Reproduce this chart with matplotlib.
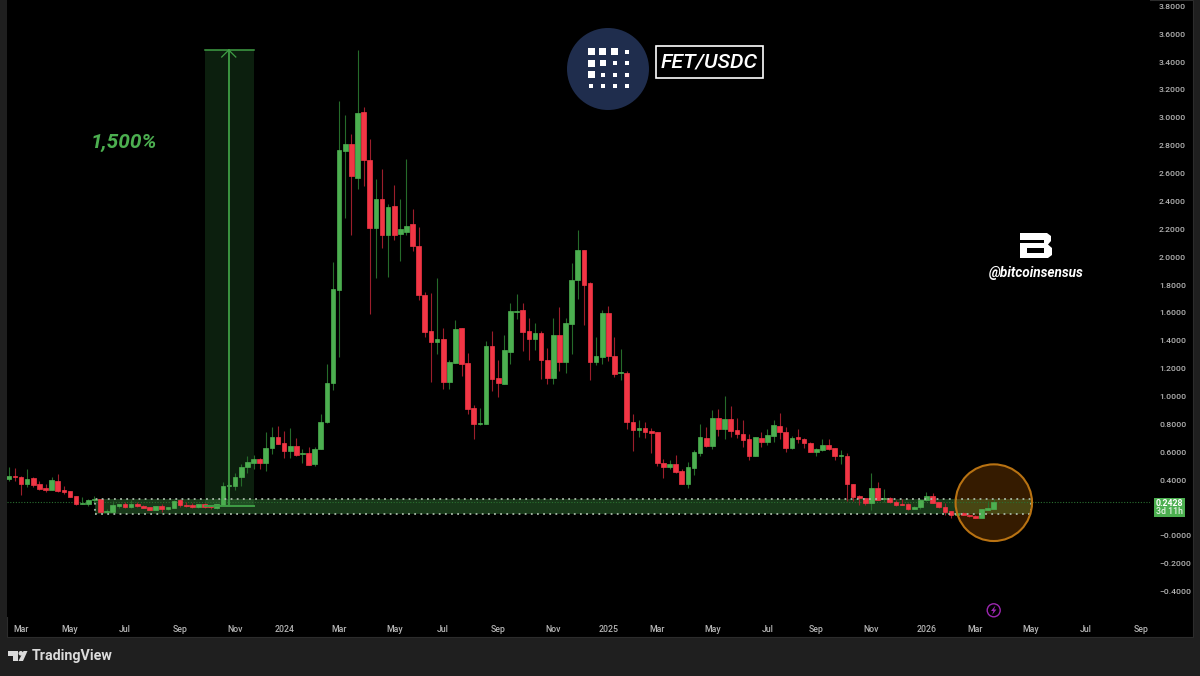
import numpy as np
import matplotlib
matplotlib.use("Agg")
import matplotlib.pyplot as plt
from matplotlib.patches import Rectangle, Ellipse, Circle, Polygon

# weekly FET/USDC candles
opens = [.409,.431,.426,.371,.414,.371,.344,.333,.397,.328,.323,.287,.232,.232,.258,.266,.175,.172,.215,.232,
         .206,.230,.218,.206,.189,.215,.196,.201,.258,.225,.220,.206,.230,.213,.199,.222,.359,.359,.423,.493,
         .526,.553,.522,.629,.708,.670,.612,.646,.588,.595,.514,.624,.815,1.098,1.768,2.763,2.811,2.569,3.041,2.699,
         2.211,2.419,2.158,2.364,2.170,2.181,2.237,2.081,1.730,1.471,1.395,1.416,1.107,1.239,1.490,1.241,.918,.803,.806,1.363,
         1.133,1.093,1.322,1.607,1.621,1.471,1.416,1.456,1.265,1.133,1.440,1.248,1.523,1.834,2.054,1.815,1.248,1.286,1.602,1.291,
         1.172,1.172,.820,.760,.772,.756,.744,.524,.495,.514,.464,.373,.488,.593,.706,.646,.847,.768,.842,.758,
         .734,.694,.576,.706,.672,.717,.792,.749,.634,.710,.696,.667,.605,.617,.655,.629,.572,.574,.376,.289,
         .275,.234,.342,.268,.273,.246,.230,.230,.196,.206,.256,.285,.242,.208,.177,.153,.167,.151,.143,.132,
         .189,.196]
highs = [.498,.486,.428,.478,.421,.397,.373,.421,.445,.359,.325,.289,.278,.263,.287,.268,.194,.249,.232,.246,
         .258,.244,.220,.208,.218,.230,.211,.258,.263,.242,.234,.232,.234,.215,.232,.385,.380,.450,.514,.577,
         .581,.562,.746,.782,.792,.753,.772,.701,.627,.636,.641,.873,1.232,1.968,3.124,3.021,2.885,3.488,3.081,2.847,
         2.562,2.634,2.383,2.519,2.421,2.706,2.344,2.218,1.751,1.744,1.852,1.490,1.263,1.550,1.490,1.313,.940,.918,1.397,1.471,
         1.263,1.444,1.674,1.734,1.669,1.562,1.526,1.471,1.351,1.561,1.643,1.564,1.956,2.195,2.054,1.820,1.428,1.619,1.650,1.428,
         1.341,1.184,.875,.832,.815,.772,.746,.552,.545,.581,.483,.533,.617,.801,.782,.904,.909,1.004,.933,.844,
         .830,.734,.713,.746,.768,.832,.882,.782,.717,.765,.705,.674,.629,.696,.696,.634,.615,.593,.376,.294,
         .275,.454,.385,.337,.282,.258,.265,.234,.215,.265,.318,.306,.246,.234,.177,.170,.170,.155,.148,.196,
         .251,.263]
lows = [.397,.397,.294,.349,.354,.330,.318,.330,.318,.301,.278,.225,.230,.215,.239,.170,.170,.170,.201,.201,
        .201,.211,.201,.187,.187,.175,.184,.199,.211,.211,.203,.203,.203,.194,.194,.215,.330,.330,.359,.455,
        .483,.483,.464,.588,.658,.560,.562,.576,.521,.507,.505,.622,.813,1.050,1.287,2.280,2.160,2.486,2.512,1.593,
        1.852,2.065,1.861,2.124,1.974,2.160,2.046,1.694,1.426,1.103,1.304,1.055,1.055,1.239,1.150,.873,.696,.796,.806,1.040,
        .997,1.093,1.234,1.557,1.327,1.263,1.334,1.126,1.088,1.088,1.186,1.172,1.308,1.700,1.514,1.119,1.224,1.234,1.255,1.141,
        1.117,.768,.610,.708,.703,.598,.502,.416,.478,.454,.371,.342,.438,.576,.641,.627,.717,.698,.708,.703,
        .641,.545,.574,.641,.655,.674,.698,.603,.627,.667,.634,.603,.576,.612,.619,.548,.519,.254,.249,.220,
        .222,.187,.256,.246,.239,.218,.222,.189,.191,.194,.254,.234,.203,.148,.132,.150,.150,.136,.129,.129,
        .187,.194]
closes = [.431,.426,.371,.411,.366,.337,.328,.402,.323,.313,.280,.230,.236,.261,.263,.172,.179,.220,.230,.208,
          .232,.218,.203,.189,.215,.196,.208,.254,.222,.218,.208,.230,.208,.206,.227,.359,.364,.426,.495,.529,
          .553,.522,.632,.708,.660,.610,.646,.581,.593,.509,.627,.820,1.098,1.772,2.768,2.811,2.579,3.036,2.699,2.213,
          2.416,2.158,2.361,2.158,2.201,2.227,2.077,1.727,1.464,1.392,1.416,1.102,1.248,1.485,1.236,.913,.803,.808,1.363,1.126,
          1.095,1.334,1.614,1.616,1.466,1.411,1.459,1.265,1.133,1.440,1.248,1.526,1.836,2.054,1.801,1.248,1.289,1.602,1.291,1.162,
          1.177,.815,.760,.772,.748,.739,.521,.495,.514,.459,.373,.493,.600,.708,.646,.847,.768,.842,.753,.732,
          .689,.576,.708,.672,.725,.794,.746,.629,.705,.696,.667,.605,.622,.655,.624,.574,.581,.371,.280,.273,
          .237,.342,.261,.273,.244,.222,.225,.194,.208,.261,.285,.237,.206,.172,.153,.165,.153,.141,.132,.191,
          .201,.2428]

month_pos = [2,10,19,28,37,45,54,63,71,80,89,98,106,115,124,132,141,150,158,167,176,185]
month_labels = ["Mar","May","Jul","Sep","Nov","2024","Mar","May","Jul","Sep","Nov","2025",
                "Mar","May","Jul","Sep","Nov","2026","Mar","May","Jul","Sep"]
price_ticks = [3.8,3.6,3.4,3.2,3.0,2.8,2.6,2.4,2.2,2.0,1.8,1.6,1.4,1.2,1.0,0.8,0.6,0.4,0.0,-0.2,-0.4]
price_labels = ["%.4f" % p for p in price_ticks[:18]] + ["\u22120.0000","\u22120.2000","\u22120.4000"]

last_price = 0.2428
zone_low, zone_high = 0.158, 0.262
zone_start, zone_end = 14.1, 167.0
move_low, move_high = 0.215, 3.486
move_start, move_mid, move_end = 32.0, 35.95, 40.1

GREEN = "#4caf50"
RED = "#f23645"
GREEN_WICK = "#256b2a"
RED_WICK = "#9c1e2b"
FRAME = "#1f1f1f"
TICK = "#b4b4b4"
W, H = 1200, 676

plt.rcParams["font.family"] = ["Roboto", "DejaVu Sans"]
fig = plt.figure(figsize=(W / 100, H / 100), dpi=100, facecolor=FRAME)

# black pane behind the chart and the two axis strips
fig.add_artist(Rectangle((7 / W, 1 - 637 / H), 1186 / W, 637 / H, transform=fig.transFigure,
                         facecolor="black", edgecolor="#2c2c2c", linewidth=0.8, zorder=-5))

ax = fig.add_axes([7 / W, 1 - 617 / H, 1143 / W, 617 / H], facecolor="black")
ax.set_xlim((7 - 8.8) / 6.118, (1150 - 8.8) / 6.118)
ax.set_ylim((536 - 617) / 139.4, 536 / 139.4)
for s in ax.spines.values():
    s.set_visible(False)

x = np.arange(len(closes))
o, h, l, c = map(np.array, (opens, highs, lows, closes))
up = c >= o

# overlays that sit under the candles
ax.add_patch(Rectangle((move_start, move_low), move_end - move_start, move_high - move_low,
                       facecolor="#0c1f0e", edgecolor="none", zorder=1))
ax.add_patch(Rectangle((zone_start, zone_low), zone_end - zone_start, zone_high - zone_low,
                       facecolor="#4caf50", alpha=0.32, edgecolor="none", zorder=1.5))
ax.add_patch(Ellipse((161, 0.239), 12.5, 0.55, facecolor="#f57c00", alpha=0.22, edgecolor="none", zorder=2))
ax.add_patch(Ellipse((161, 0.239), 12.5, 0.55, facecolor="none", edgecolor="#b87212", linewidth=1.5, zorder=5))
ax.add_patch(Rectangle((zone_start, zone_low), zone_end - zone_start, zone_high - zone_low,
                       facecolor="none", edgecolor="#a9b9a9", linewidth=1.3,
                       linestyle=(0, (1, 2.4)), zorder=4))
ax.axhline(last_price, color="#2a6e30", linewidth=0.8, linestyle=(0, (1, 1.5)), zorder=2)

# candles
ax.vlines(x[up], l[up], h[up], color=GREEN_WICK, linewidth=0.8, zorder=3)
ax.vlines(x[~up], l[~up], h[~up], color=RED_WICK, linewidth=0.8, zorder=3)
ax.bar(x[up], (c - o)[up], bottom=o[up], width=0.76, color=GREEN, edgecolor=GREEN, linewidth=0.5, zorder=3.5)
ax.bar(x[~up], (c - o)[~up], bottom=o[~up], width=0.76, color=RED, edgecolor=RED, linewidth=0.5, zorder=3.5)

# long position tool
line_green = "#3f9e45"
ax.plot([move_start, move_end], [move_high, move_high], color=line_green, linewidth=1.1, zorder=4)
ax.plot([move_start, move_end], [move_low, move_low], color=line_green, linewidth=1.4, zorder=4)
ax.plot([move_mid, move_mid], [move_low, move_high], color=line_green, linewidth=1.3, zorder=4)
ax.plot([move_mid - 1.15, move_mid, move_mid + 1.15], [move_high - 0.05, move_high, move_high - 0.05],
        color=line_green, linewidth=0.9, zorder=4)

ax.set_xticks(month_pos, month_labels)
ax.set_yticks(price_ticks, price_labels)
ax.yaxis.tick_right()
ax.tick_params(axis="y", length=0, pad=6.5, labelsize=6.1, labelcolor=TICK)
ax.tick_params(axis="x", length=0, pad=5.6, labelsize=6.3, labelcolor=TICK)
for t in ax.get_xticklabels() + ax.get_yticklabels():
    t.set_fontweight("medium")

# full figure layer in pixels for labels and logos
top = fig.add_axes([0, 0, 1, 1], facecolor="none", zorder=10)
top.set_xlim(0, W)
top.set_ylim(H, 0)
top.axis("off")

top.text(124, 143, "1,500%", color=GREEN, fontsize=15, fontstyle="italic", fontweight="bold",
         ha="center", va="center")

# price label
top.add_patch(Rectangle((1154, 497.7), 31, 19.6, facecolor=GREEN, edgecolor="none"))
top.text(1169.5, 503, "0.2428", color="white", fontsize=6.3, fontweight="bold", ha="center", va="center")
top.text(1169.5, 512, "3d 11h", color="#e4f2e4", fontsize=6.3, fontweight="medium", ha="center", va="center")

# FET logo
top.add_patch(Circle((608, 69), 41, facecolor="#1f2d4d", edgecolor="none"))
dot_x = [591, 602.7, 614.7, 626.7]
dot_y = [51.7, 63, 74.7, 86.3]
dot_size = [[7, 7, 7, 4], [7, 6, 4, 4], [7, 4, 4, 4], [4, 4, 4, 4]]
for r, yy in enumerate(dot_y):
    for k, xx in enumerate(dot_x):
        s = dot_size[r][k]
        top.add_patch(Rectangle((xx - s / 2, yy - s / 2), s, s, facecolor="white", edgecolor="none"))

top.add_patch(Rectangle((656, 46), 107, 31.5, facecolor="black", edgecolor="white", linewidth=1.2))
top.text(709.5, 62, "FET/USDC", color="white", fontsize=15.4, fontstyle="italic", fontweight="medium",
         ha="center", va="center")

# bitcoinsensus mark
top.add_patch(Polygon([(1020, 233), (1047, 233), (1051, 236), (1051, 241), (1048, 244.5), (1052, 248),
                       (1052, 255), (1048, 258), (1020, 258)], facecolor="white", edgecolor="none"))
top.add_patch(Rectangle((1020, 240), 24, 3.4, facecolor="black", edgecolor="none"))
top.add_patch(Rectangle((1026.5, 248), 17.5, 5, facecolor="black", edgecolor="none"))
top.text(1036, 273, "@bitcoinsensus", color="white", fontsize=9.8, fontstyle="italic", fontweight="bold",
         ha="center", va="center")

# lightning marker on the time axis
top.add_patch(Circle((993.7, 610.3), 6.5, facecolor="none", edgecolor="#9c27b0", linewidth=1))
top.add_patch(Polygon([(995.5, 605.5), (991, 611), (993.4, 611), (992, 615), (996.5, 609.5), (994, 609.5)],
                      facecolor="#9c27b0", edgecolor="none"))

# TradingView footer
top.add_patch(Polygon([(8, 651), (18, 651), (18, 661), (13, 661), (13, 656), (8, 656)], facecolor="#dbdbdb", edgecolor="none"))
top.add_patch(Circle((20.8, 653.3), 2.3, facecolor="#dbdbdb", edgecolor="none"))
top.add_patch(Polygon([(18.5, 661), (23.5, 651), (27.5, 651), (23, 661)], facecolor="#dbdbdb", edgecolor="none"))
top.text(32, 656.3, "TradingView", color="#dbdbdb", fontsize=10.3, fontweight="bold", ha="left", va="center")

fig.savefig("out.png", dpi=100, facecolor=fig.get_facecolor())
